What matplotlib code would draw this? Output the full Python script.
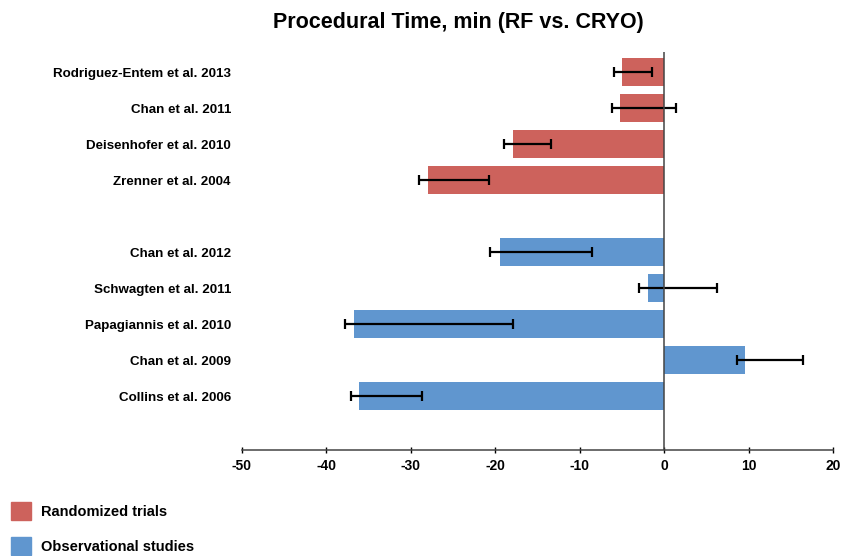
import matplotlib
matplotlib.use("Agg")
import matplotlib.pyplot as plt
from matplotlib.patches import Patch

plt.rcParams["font.family"] = ["Liberation Sans", "DejaVu Sans"]
plt.rcParams["axes.unicode_minus"] = False

# randomized trials (top group) and observational studies (bottom group)
RCT_LABELS = ["Rodriguez-Entem et al. 2013", "Chan et al. 2011",
              "Deisenhofer et al. 2010", "Zrenner et al. 2004"]
RCT_MEAN = [-5.0, -5.2, -17.9, -28.0]
RCT_LO = [-6.0, -6.2, -19.0, -29.0]
RCT_HI = [-1.5, 1.4, -13.4, -20.7]

OBS_LABELS = ["Chan et al. 2012", "Schwagten et al. 2011",
              "Papagiannis et al. 2010", "Chan et al. 2009", "Collins et al. 2006"]
OBS_MEAN = [-19.5, -1.9, -36.7, 9.6, -36.1]
OBS_LO = [-20.6, -3.0, -37.8, 8.6, -37.1]
OBS_HI = [-8.6, 6.2, -17.9, 16.4, -28.7]

RED = "#cd625c"
BLUE = "#6096cf"

fig = plt.figure(figsize=(8.53, 5.56), dpi=100)
ax = fig.add_axes([0.2837, 0.1906, 0.6929, 0.7159])

y_rct = list(range(len(RCT_LABELS)))
y_obs = [len(RCT_LABELS) + 1 + i for i in range(len(OBS_LABELS))]

for ys, mean, lo, hi, col in [(y_rct, RCT_MEAN, RCT_LO, RCT_HI, RED),
                              (y_obs, OBS_MEAN, OBS_LO, OBS_HI, BLUE)]:
    ax.barh(ys, mean, height=0.78, color=col, zorder=2)
    for y, l, h in zip(ys, lo, hi):
        ax.errorbar((l + h) / 2, y, xerr=(h - l) / 2, fmt="none", ecolor="black",
                    elinewidth=1.6, capsize=3.5, capthick=1.6, zorder=3)

ax.axvline(0, color="#444444", lw=1.1, zorder=4)
ax.set_xlim(-50, 20)
ax.set_ylim(10.5, -0.56)
ax.set_xticks(range(-50, 21, 10))
ax.set_yticks(y_rct + y_obs)
ax.set_yticklabels(RCT_LABELS + OBS_LABELS, fontsize=9.6, fontweight="bold")
for lab in ax.get_xticklabels():
    lab.set_fontweight("bold")
ax.tick_params(axis="x", labelsize=10, direction="inout", length=5, width=1, pad=4)
ax.tick_params(axis="y", length=0, pad=8)
for s in ["top", "right", "left"]:
    ax.spines[s].set_visible(False)
ax.spines["bottom"].set_color("#444444")
ax.spines["bottom"].set_linewidth(1.1)

fig.text(0.537, 0.96, "Procedural Time, min (RF vs. CRYO)", ha="center", va="center",
         fontsize=15.5, fontweight="bold")

handles = [Patch(color=RED, label="Randomized trials"),
           Patch(color=BLUE, label="Observational studies")]
fig.legend(handles=handles, loc="upper left", bbox_to_anchor=(0.0129, 0.0971),
           frameon=False, borderpad=0, borderaxespad=0,
           prop={"weight": "bold", "size": 10.5}, handlelength=1.37, handleheight=1.55,
           labelspacing=1.15, handletextpad=0.7)

fig.savefig("out.png", dpi=100)
